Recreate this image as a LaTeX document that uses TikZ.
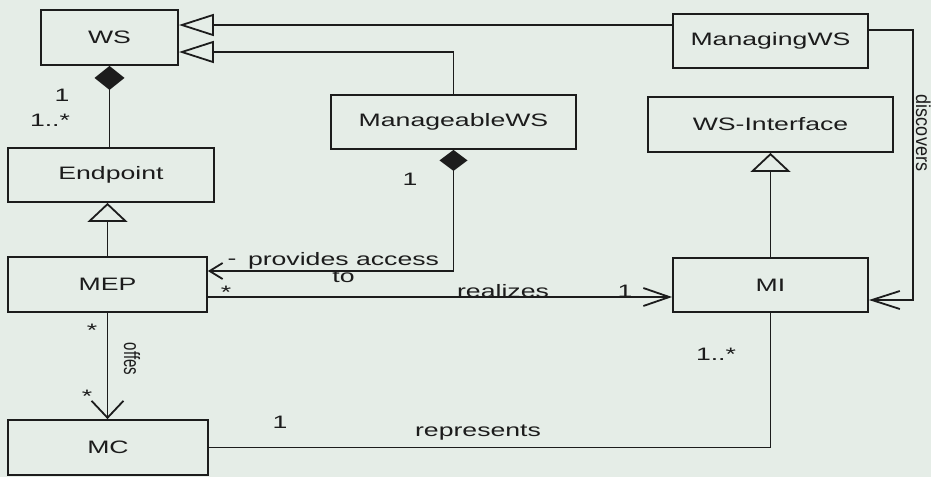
\documentclass[tikz,border=0pt]{standalone}
\usepackage{fontspec}
\setmainfont{Liberation Sans}
\newfontfamily\widefont[FakeStretch=1.48]{Liberation Sans}
\usetikzlibrary{arrows.meta}
\definecolor{paper}{RGB}{229,237,231}
\definecolor{ink}{RGB}{28,28,28}
\begin{document}
\begin{tikzpicture}[x=1pt,y=-1pt,color=ink,line width=1.8pt,
  cls/.style={draw,fill=paper,inner sep=0pt,minimum height=54pt,
    font=\widefont\fontsize{18}{20}\selectfont},
  lbl/.style={inner sep=0pt,font=\widefont\fontsize{18}{17}\selectfont},
  genH/.style={-{Triangle[open,length=35pt,width=22pt,fill=paper]}},
  genV/.style={-{Triangle[open,length=19pt,width=40pt,fill=paper]}}]
  % canvas
  \fill[paper] (0,0) rectangle (931,477);
  \useasboundingbox (0,0) rectangle (931,477);

  % classes
  \node[cls,minimum width=137pt,minimum height=55pt] (WS)   at (109.5,37.5) {WS};
  \node[cls,minimum width=195pt] (MgWS) at (770.5,41)   {ManagingWS};
  \node[cls,minimum width=245pt] (MbWS) at (453.5,122)  {ManageableWS};
  \node[cls,minimum width=245pt,minimum height=55pt] (WSI) at (770.5,124.5) {WS-Interface};
  \node[cls,minimum width=206pt] (EP)   at (111,175)    {Endpoint};
  \node[cls,minimum width=199pt,minimum height=55pt] (MEP) at (107.5,284.5) {MEP};
  \node[cls,minimum width=195pt] (MI)   at (770.5,285)  {MI};
  \node[cls,minimum width=200pt,minimum height=55pt] (MC) at (108,447.5) {MC};

  % bends of the "discovers" association
  \coordinate (d1) at (913,30);
  \coordinate (d2) at (913,300);

  % generalizations
  \draw[genH] ([yshift=16pt]MgWS.west) -- ([yshift=16pt]MgWS.west -| WS.east);
  \draw[genH] (MbWS.north) |- ([yshift=-14.5pt]WS.east);
  \draw[genV] (MEP.north) -- (MEP.north |- EP.south);
  \draw[genV] (MI.north) -- (WSI.south);

  % compositions
  \draw[{Diamond[length=24pt,width=30pt]}-] (WS.south) -- (WS.south |- EP.north);
  \draw[{Diamond[length=21pt,width=28pt]}-{Straight Barb[length=13pt,width=16pt]}]
    (MbWS.south) |- ([yshift=13.5pt]MEP.east);

  % associations
  \draw[-{Straight Barb[length=26pt,width=18pt]}]
    ([yshift=-12.5pt]MEP.east) -- ([yshift=-12.5pt]MEP.east -| MI.west);
  \draw[-{Straight Barb[length=28pt,width=18pt]}]
    ([yshift=11pt]MgWS.east) -- (d1) -- (d2) -- ([yshift=-15pt]MI.east);
  \draw[-{Straight Barb[length=17pt,width=32pt]}] (MEP.south) -- (MEP.south |- MC.north);
  \draw (MC.east) -| (MI.south);

  % multiplicities and role names
  \node[lbl] (m1)  at (62,95)   {1};
  \node[lbl] (m2)  at (50,120)  {1..*};
  \node[lbl] (m3)  at (410,179) {1};
  \node[lbl] (m4)  at (232,262) {-};
  \node[lbl,align=center] (pa) at (343.5,268) {provides access\\to};
  \node[lbl] (m5)  at (226,292) {*};
  \node[lbl] (rl)  at (503,291) {realizes};
  \node[lbl] (m6)  at (625,291) {1};
  \node[lbl] (m7)  at (92,330)  {*};
  \node[lbl] (m8)  at (87,396)  {*};
  \node[lbl] (m9)  at (280,422) {1};
  \node[lbl] (rp)  at (478,433) {represents};
  \node[lbl] (m10) at (716,354) {1..*};
  \node[inner sep=0pt,rotate=-90,anchor=base] (of) at (124,359)
    {\scalebox{1}[1.48]{\fontsize{15}{17}\selectfont offes}};
  \node[inner sep=0pt,rotate=-90,anchor=base] (ds) at (916,133)
    {\scalebox{1}[1.12]{\fontsize{18}{20}\selectfont discovers}};
\end{tikzpicture}
\end{document}
